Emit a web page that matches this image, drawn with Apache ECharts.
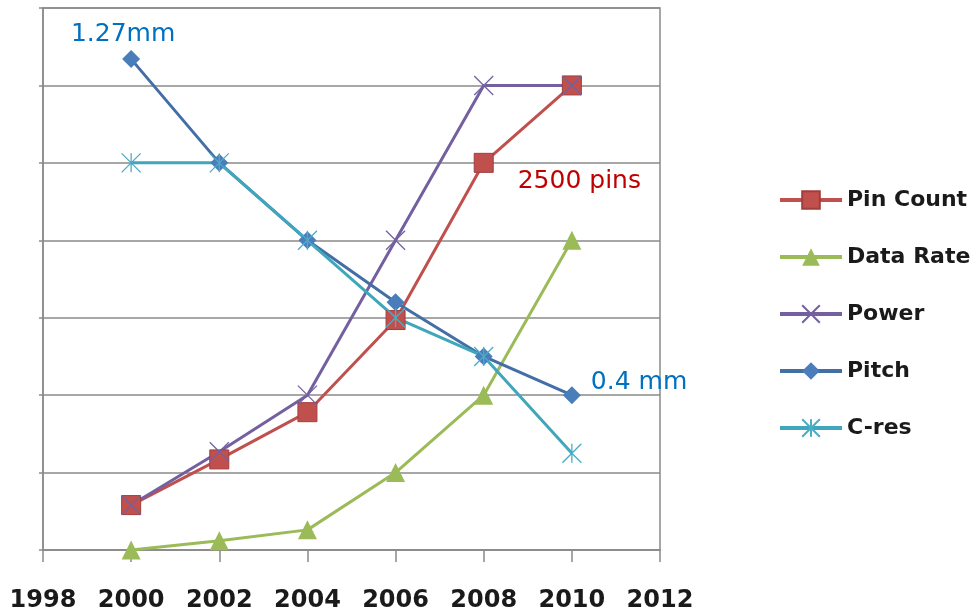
<!DOCTYPE html>
<html>
<head>
<meta charset="utf-8">
<script src="https://cdn.jsdelivr.net/npm/echarts@6/dist/echarts.min.js"></script>
<style>
  html, body { margin: 0; padding: 0; background: #ffffff; }
  #chart { width: 976px; height: 614px; }
</style>
</head>
<body>
<div id="chart"></div>
<script>
// Years plotted and the axis range
const years = [2000, 2002, 2004, 2006, 2008, 2010];
const xTicks = [1998, 2000, 2002, 2004, 2006, 2008, 2010, 2012];

// Relative trend values (unitless scale 0..7)
const pinCount = [0.58, 1.17, 1.78, 2.97, 5.0, 6.0];
const dataRate = [0.0, 0.12, 0.26, 1.0, 2.0, 4.0];
const power    = [0.58, 1.27, 2.0, 4.0, 6.0, 6.0];
const pitch    = [6.34, 5.0, 4.0, 3.2, 2.5, 2.0];
const cres     = [5.0, 5.0, 4.0, 3.0, 2.5, 1.25];

// Point annotations
const pinNotes   = ['', '', '', '', '2500 pins', ''];
const pitchNotes = ['1.27mm', '', '', '', '', '0.4 mm'];

const seriesNames = ['Pin Count', 'Data Rate', 'Power', 'Pitch', 'C-res'];

const noteFont = { fontFamily: 'DejaVu Sans', fontSize: 25, fontWeight: 'normal' };

function points(values, notes, noteStyles) {
  return values.map(function (v, i) {
    const item = { value: [years[i], v] };
    if (notes && notes[i]) {
      item.label = Object.assign({ show: true, formatter: notes[i] }, noteFont, noteStyles[i]);
    }
    return item;
  });
}

const crossPath = 'path://M0,0L10,10M10,0L0,10';
const starPath = 'path://M5,0L5,10M0,0L10,10M10,0L0,10';

const chart = echarts.init(document.getElementById('chart'), null, { renderer: 'canvas' });

chart.setOption({
  backgroundColor: '#ffffff',
  animation: false,
  grid: {
    left: 43, right: 316, top: 8, bottom: 64,
    show: true, borderColor: '#8a8a8a', borderWidth: 1.5
  },
  legend: {
    orient: 'vertical',
    left: 778, top: 189,
    padding: 0,
    itemWidth: 62, itemHeight: 22, itemGap: 35,
    data: seriesNames,
    lineStyle: { width: 4 },
    textStyle: { fontFamily: 'DejaVu Sans', fontSize: 22, fontWeight: 'bold', color: '#1a1a1a' }
  },
  xAxis: {
    type: 'value',
    min: xTicks[0], max: xTicks[xTicks.length - 1], interval: 2,
    axisLine: { show: true, lineStyle: { color: '#8a8a8a', width: 1.5 } },
    axisTick: { show: true, length: 12, lineStyle: { color: '#8a8a8a', width: 1.5 } },
    splitLine: { show: false },
    axisLabel: {
      margin: 39,
      fontFamily: 'DejaVu Sans', fontSize: 24, fontWeight: 'bold', color: '#1a1a1a',
      formatter: function (v) { return String(v); }
    }
  },
  yAxis: {
    type: 'value',
    min: 0, max: 7, interval: 1,
    axisLine: { show: true, lineStyle: { color: '#8a8a8a', width: 1.5 } },
    axisTick: { show: true, length: 4, lineStyle: { color: '#8a8a8a', width: 1.5 } },
    axisLabel: { show: false },
    splitLine: { show: true, lineStyle: { color: '#8a8a8a', width: 1.5 } }
  },
  series: [
    {
      name: 'Pin Count', type: 'line',
      data: points(pinCount, pinNotes, {
        4: { position: 'right', distance: 24, offset: [0, 19], color: '#c00000' }
      }),
      symbol: 'rect', symbolSize: 19,
      lineStyle: { color: '#c0504d', width: 3 },
      itemStyle: { color: '#c0504d', borderColor: '#a33d3a', borderWidth: 1 }
    },
    {
      name: 'Data Rate', type: 'line',
      data: points(dataRate),
      symbol: 'triangle', symbolSize: 19,
      lineStyle: { color: '#9bbb59', width: 3 },
      itemStyle: { color: '#9bbb59' }
    },
    {
      name: 'Power', type: 'line',
      data: points(power),
      symbol: crossPath, symbolSize: 19,
      lineStyle: { color: '#7460a0', width: 3 },
      itemStyle: { color: '#7460a0', borderColor: '#7460a0', borderWidth: 1.3 }
    },
    {
      name: 'Pitch', type: 'line',
      data: points(pitch, pitchNotes, {
        0: { position: 'top', distance: 3, offset: [-8, 0], color: '#0070c0' },
        5: { position: 'right', distance: 10, offset: [0, -13], color: '#0070c0' }
      }),
      symbol: 'diamond', symbolSize: 18,
      lineStyle: { color: '#436ea6', width: 3 },
      itemStyle: { color: '#4a7ebb' }
    },
    {
      name: 'C-res', type: 'line',
      data: points(cres),
      symbol: starPath, symbolSize: 19,
      lineStyle: { color: '#3fa6bb', width: 3 },
      itemStyle: { color: '#4bacc6', borderColor: '#4bacc6', borderWidth: 1.3 }
    }
  ]
});
</script>
</body>
</html>
